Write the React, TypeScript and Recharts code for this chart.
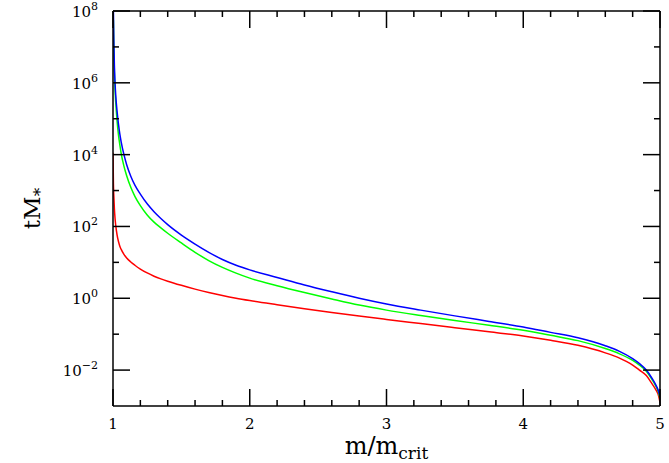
import { Label, Line, LineChart, XAxis, YAxis } from "recharts";

// m / m_crit sample points
const xValues = [
  1.0, 1.003, 1.006, 1.01, 1.015, 1.02, 1.03, 1.04, 1.05, 1.06, 1.08, 1.1, 1.13, 1.16, 1.2, 1.25, 1.3, 1.35,
  1.4, 1.5, 1.6, 1.7, 1.8, 1.9, 2.0, 2.2, 2.4, 2.6, 2.8, 3.0, 3.25, 3.5, 3.75, 4.0, 4.2, 4.4, 4.6, 4.7, 4.8,
  4.85, 4.9, 4.94, 4.97, 4.99, 5.0,
];

// log10(tM*)
const blueLog = [
  null, 8.0, 7.2, 6.5, 6.0, 5.65, 5.2, 4.85, 4.57, 4.35, 4.0, 3.72, 3.4, 3.15, 2.9, 2.63, 2.41, 2.22,
  2.05, 1.76, 1.51, 1.28, 1.08, 0.92, 0.79, 0.58, 0.37, 0.18, 0.0, -0.16, -0.33, -0.49, -0.645, -0.8, -0.95, -1.1,
  -1.32, -1.47, -1.68, -1.82, -2.0, -2.22, -2.42, -2.6, -2.75,
];
const greenLog = [
  null, 7.75, 6.95, 6.3, 5.8, 5.45, 4.93, 4.55, 4.27, 4.03, 3.68, 3.41, 3.09, 2.84, 2.58, 2.32, 2.12, 1.96,
  1.81, 1.54, 1.28, 1.05, 0.86, 0.7, 0.56, 0.35, 0.16, -0.02, -0.19, -0.33, -0.48, -0.62, -0.75, -0.89, -1.03, -1.18,
  -1.4, -1.54, -1.73, -1.86, -2.03, -2.25, -2.45, -2.63, -2.8,
];
const redLog = [
  4.05, 3.2, 2.85, 2.5, 2.22, 2.03, 1.76, 1.58, 1.45, 1.36, 1.22, 1.12, 1.01, 0.92, 0.815, 0.705, 0.615, 0.54,
  0.475, 0.36, 0.255, 0.16, 0.075, 0.0, -0.065, -0.18, -0.29, -0.395, -0.495, -0.59, -0.705, -0.82, -0.935, -1.05, -1.17, -1.31,
  -1.52, -1.66, -1.86, -2.0, -2.15, -2.37, -2.55, -2.72, -2.9,
];

const xTicks = [
  1, 1.2, 1.4, 1.6, 1.8, 2, 2.2, 2.4, 2.6, 2.8, 3, 3.2, 3.4, 3.6, 3.8, 4, 4.2, 4.4, 4.6, 4.8, 5,
];
const yTicks = [1e-2, 1e-1, 1, 1e1, 1e2, 1e3, 1e4, 1e5, 1e6, 1e7, 1e8];

const toValue = (p: number | null) => (p === null ? null : Math.pow(10, p));

const data = xValues.map((x, i) => ({
  x,
  blue: toValue(blueLog[i]),
  green: toValue(greenLog[i]),
  red: toValue(redLog[i]),
}));

const FONT = "'DejaVu Serif', 'Liberation Serif', serif";
const MAJOR = 17;
const MINOR = 6;
const Y_GAP = 15;
const X_GAP = 10;

const isMajorX = (v: number) => Math.abs(v - Math.round(v)) < 1e-6;
const powerOf = (v: number) => Math.round(Math.log10(v));

function LeftTick({ x, y, payload }: any) {
  const p = powerOf(payload.value);
  const major = p % 2 === 0;
  const ax = x + Y_GAP;
  return (
    <g>
      <line x1={ax} x2={ax + (major ? MAJOR : MINOR)} y1={y} y2={y} stroke="#000" strokeWidth={1.5} />
      {major && (
        <text x={x} y={y + 6} textAnchor="end" fontSize={15} fontFamily={FONT} fill="#000">
          10
          <tspan dy={-7} fontSize={11}>
            {p < 0 ? `\u2212${-p}` : p}
          </tspan>
        </text>
      )}
    </g>
  );
}

function RightTick({ x, y, payload }: any) {
  const major = powerOf(payload.value) % 2 === 0;
  return <line x1={x} x2={x - (major ? MAJOR : MINOR)} y1={y} y2={y} stroke="#000" strokeWidth={1.5} />;
}

function BottomTick({ x, y, payload }: any) {
  const major = isMajorX(payload.value);
  const ay = y - X_GAP;
  return (
    <g>
      <line x1={x} x2={x} y1={ay} y2={ay - (major ? MAJOR : MINOR)} stroke="#000" strokeWidth={1.5} />
      {major && (
        <text x={x} y={y + 13} textAnchor="middle" fontSize={15} fontFamily={FONT} fill="#000">
          {Math.round(payload.value)}
        </text>
      )}
    </g>
  );
}

function TopTick({ x, y, payload }: any) {
  const major = isMajorX(payload.value);
  return <line x1={x} x2={x} y1={y} y2={y + (major ? MAJOR : MINOR)} stroke="#000" strokeWidth={1.5} />;
}

function XTitle({ viewBox }: any) {
  const cx = viewBox.x + viewBox.width / 2;
  return (
    <text x={cx} y={viewBox.y + 48} textAnchor="middle" fontSize={24} fontFamily={FONT} fill="#000">
      m/m
      <tspan dy={5} fontSize={17}>
        crit
      </tspan>
    </text>
  );
}

function YTitle({ viewBox }: any) {
  const cx = 40;
  const cy = viewBox.y + viewBox.height / 2;
  return (
    <text
      x={cx}
      y={cy}
      transform={`rotate(-90, ${cx}, ${cy})`}
      textAnchor="middle"
      fontSize={23}
      fontFamily={FONT}
      fill="#000"
    >
      tM
      <tspan dy={6} fontSize={17}>
        *
      </tspan>
    </text>
  );
}

export default function App() {
  return (
    <div style={{ position: "absolute", left: 0, top: 0, width: 669, height: 463, background: "#fff" }}>
      <LineChart width={669} height={463} data={data} margin={{ top: 0, right: 0, left: 0, bottom: 0 }}>
        <XAxis
          xAxisId="bottom"
          dataKey="x"
          type="number"
          domain={[1, 5]}
          allowDataOverflow
          ticks={xTicks}
          interval={0}
          height={57}
          tickSize={0}
          tickMargin={X_GAP}
          tickLine={false}
          tick={<BottomTick />}
          axisLine={{ stroke: "#000", strokeWidth: 1.5 }}
        >
          <Label content={<XTitle />} />
        </XAxis>
        <XAxis
          xAxisId="top"
          orientation="top"
          dataKey="x"
          type="number"
          domain={[1, 5]}
          allowDataOverflow
          ticks={xTicks}
          interval={0}
          height={11}
          tickSize={0}
          tickMargin={0}
          tickLine={false}
          tick={<TopTick />}
          axisLine={{ stroke: "#000", strokeWidth: 1.5 }}
        />
        <YAxis
          yAxisId="left"
          type="number"
          scale="log"
          domain={[1e-3, 1e8]}
          allowDataOverflow
          ticks={yTicks}
          interval={0}
          width={113}
          tickSize={0}
          tickMargin={Y_GAP}
          tickLine={false}
          tick={<LeftTick />}
          axisLine={{ stroke: "#000", strokeWidth: 1.5 }}
        >
          <Label content={<YTitle />} />
        </YAxis>
        <YAxis
          yAxisId="right"
          orientation="right"
          type="number"
          scale="log"
          domain={[1e-3, 1e8]}
          allowDataOverflow
          ticks={yTicks}
          interval={0}
          width={9}
          tickSize={0}
          tickMargin={0}
          tickLine={false}
          tick={<RightTick />}
          axisLine={{ stroke: "#000", strokeWidth: 1.5 }}
        />
        <Line xAxisId="bottom" yAxisId="left" dataKey="red" stroke="#ff0000" strokeWidth={1.5} dot={false} type="monotone" isAnimationActive={false} />
        <Line xAxisId="bottom" yAxisId="left" dataKey="green" stroke="#00ff00" strokeWidth={1.5} dot={false} type="monotone" isAnimationActive={false} />
        <Line xAxisId="bottom" yAxisId="left" dataKey="blue" stroke="#0000ff" strokeWidth={1.5} dot={false} type="monotone" isAnimationActive={false} />
      </LineChart>
    </div>
  );
}
